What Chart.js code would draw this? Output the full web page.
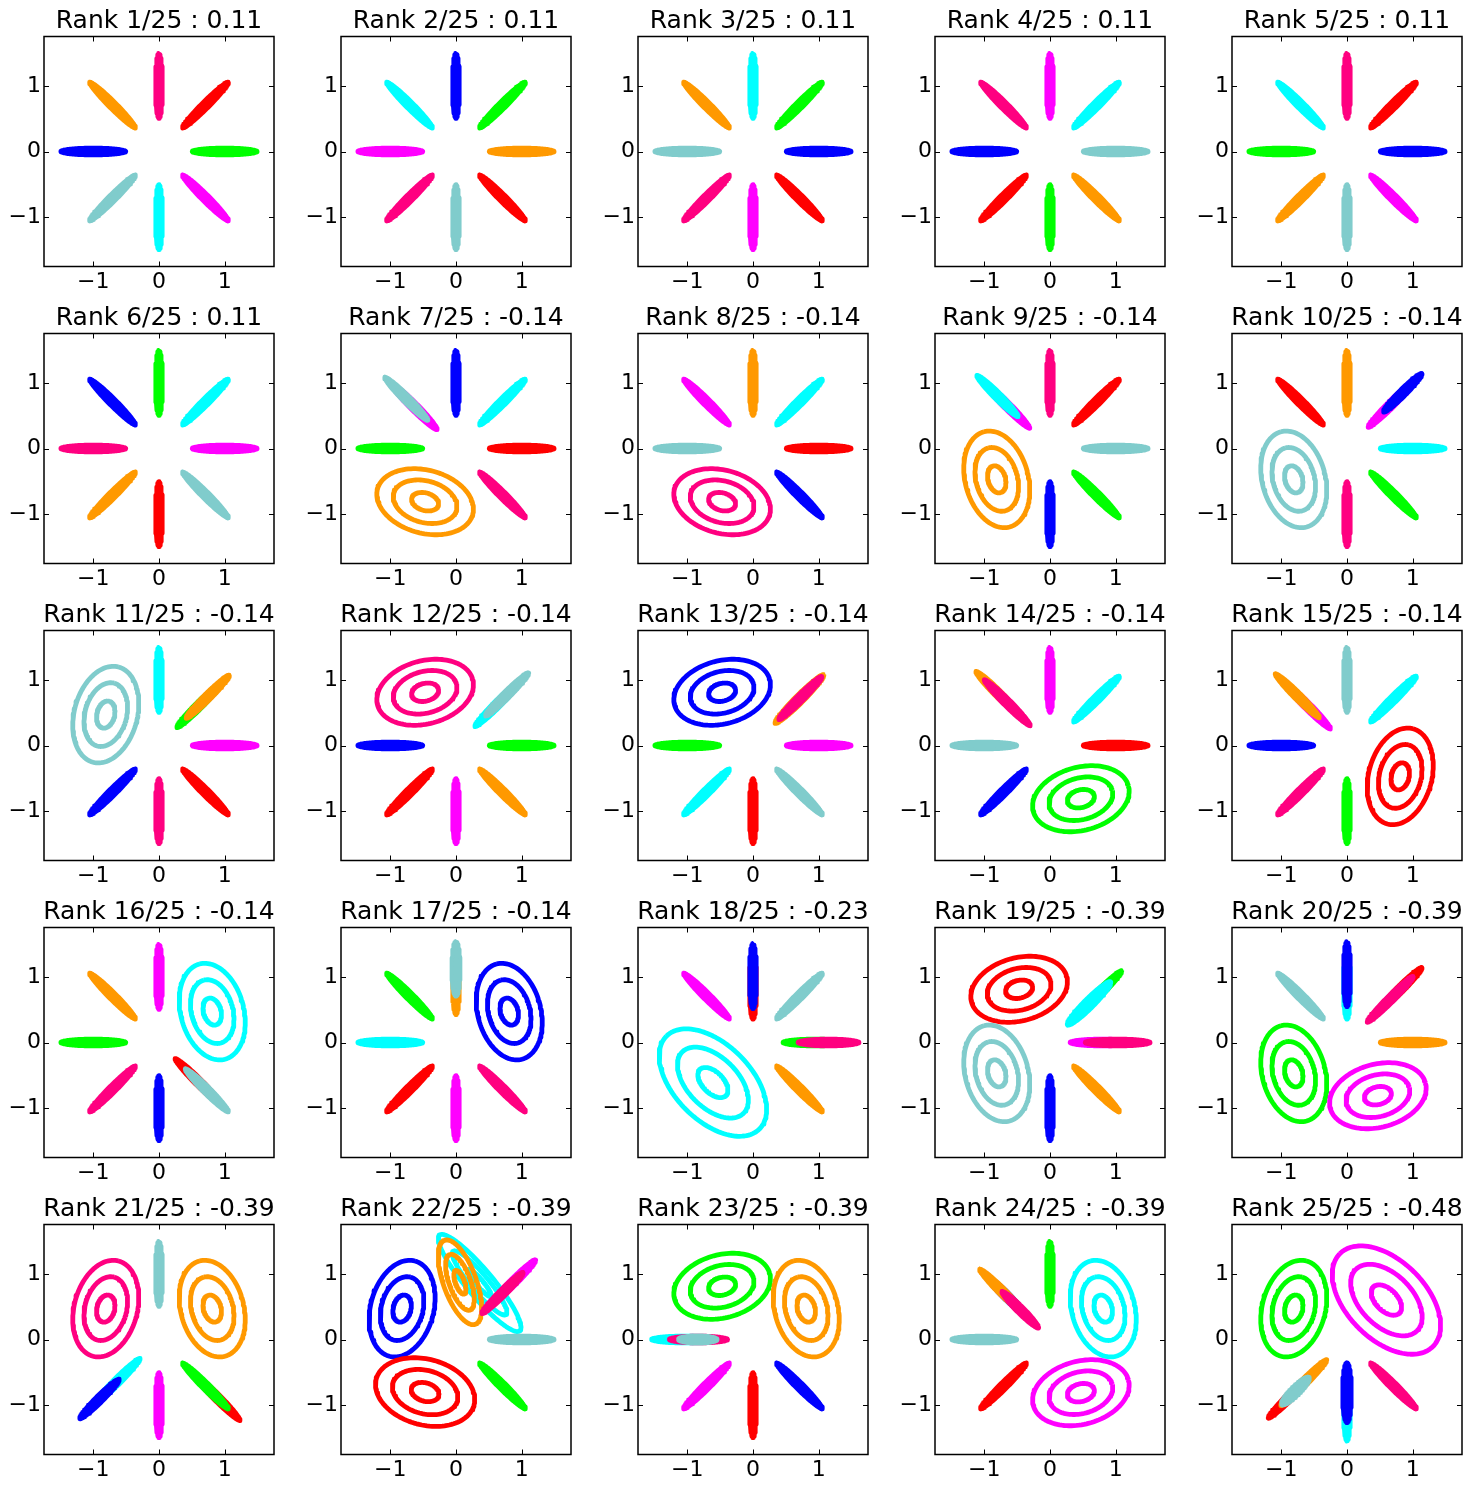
<!DOCTYPE html>
<html>
<head>
<meta charset="utf-8">
<script src="https://cdn.jsdelivr.net/npm/chart.js@4.4.1/dist/chart.umd.min.js"></script>
<style>
html, body { margin: 0; padding: 0; background: #fff; overflow: hidden; }
#grid { position: relative; width: 1472px; height: 1490px; }
.cell { position: absolute; width: 318px; height: 297px; }
</style>
</head>
<body>
<div id="grid"></div>
<script>
// scores shown in the panel titles, rank 1..25
const scores = [0.11, 0.11, 0.11, 0.11, 0.11, 0.11,
  -0.14, -0.14, -0.14, -0.14, -0.14, -0.14, -0.14, -0.14, -0.14, -0.14, -0.14,
  -0.23, -0.39, -0.39, -0.39, -0.39, -0.39, -0.39, -0.48];
const tickValues = [-1, 0, 1];
const axisMin = -1.75, axisMax = 1.75;
const contourLevels = [1, 0.66, 0.28];

// components of each panel, listed bottom to top
// ['bar', direction deg, radius, half length, half width, colour]  thin gaussian
// ['ring', cx, cy, a, b, angle deg, colour]                       round gaussian, 3 contours
const rank1 = [['bar',90,1,0.5,0.058,'pink'],['bar',45,1,0.5,0.058,'red'],['bar',0,1,0.5,0.058,'lime'],['bar',315,1,0.5,0.058,'magenta'],
  ['bar',270,1,0.5,0.058,'cyan'],['bar',225,1,0.5,0.058,'teal'],['bar',180,1,0.5,0.058,'blue'],['bar',135,1,0.5,0.058,'orange']];
const rank2 = [['bar',90,1,0.5,0.058,'blue'],['bar',45,1,0.5,0.058,'lime'],['bar',0,1,0.5,0.058,'orange'],['bar',315,1,0.5,0.058,'red'],
  ['bar',270,1,0.5,0.058,'teal'],['bar',225,1,0.5,0.058,'pink'],['bar',180,1,0.5,0.058,'magenta'],['bar',135,1,0.5,0.058,'cyan']];
const rank3 = [['bar',90,1,0.5,0.058,'cyan'],['bar',45,1,0.5,0.058,'lime'],['bar',0,1,0.5,0.058,'blue'],['bar',315,1,0.5,0.058,'red'],
  ['bar',270,1,0.5,0.058,'magenta'],['bar',225,1,0.5,0.058,'pink'],['bar',180,1,0.5,0.058,'teal'],['bar',135,1,0.5,0.058,'orange']];
const rank4 = [['bar',90,1,0.5,0.058,'magenta'],['bar',45,1,0.5,0.058,'cyan'],['bar',0,1,0.5,0.058,'teal'],['bar',315,1,0.5,0.058,'orange'],
  ['bar',270,1,0.5,0.058,'lime'],['bar',225,1,0.5,0.058,'red'],['bar',180,1,0.5,0.058,'blue'],['bar',135,1,0.5,0.058,'pink']];
const rank5 = [['bar',90,1,0.5,0.058,'pink'],['bar',45,1,0.5,0.058,'red'],['bar',0,1,0.5,0.058,'blue'],['bar',315,1,0.5,0.058,'magenta'],
  ['bar',270,1,0.5,0.058,'teal'],['bar',225,1,0.5,0.058,'orange'],['bar',180,1,0.5,0.058,'lime'],['bar',135,1,0.5,0.058,'cyan']];
const rank6 = [['bar',90,1,0.5,0.058,'lime'],['bar',45,1,0.5,0.058,'cyan'],['bar',0,1,0.5,0.058,'magenta'],['bar',315,1,0.5,0.058,'teal'],
  ['bar',270,1,0.5,0.058,'red'],['bar',225,1,0.5,0.058,'orange'],['bar',180,1,0.5,0.058,'pink'],['bar',135,1,0.5,0.058,'blue']];
const rank7 = [['bar',90,1,0.5,0.058,'blue'],['bar',45,1,0.5,0.058,'cyan'],['bar',0,1,0.5,0.058,'red'],['bar',315,1,0.5,0.058,'pink'],
  ['bar',180,1,0.5,0.058,'lime'],['bar',135,0.9,0.5,0.062,'magenta'],['bar',135,1.07,0.47,0.058,'teal'],
  ['ring',-0.47,-0.81,0.75,0.48,165,'orange']];
const rank8 = [['bar',90,1,0.5,0.058,'orange'],['bar',45,1,0.5,0.058,'cyan'],['bar',0,1,0.5,0.058,'red'],['bar',315,1,0.5,0.058,'blue'],
  ['bar',180,1,0.5,0.058,'teal'],['bar',135,1,0.5,0.058,'magenta'],
  ['ring',-0.47,-0.81,0.75,0.48,165,'pink']];
const rank9 = [['bar',90,1,0.5,0.058,'pink'],['bar',45,1,0.5,0.058,'red'],['bar',0,1,0.5,0.058,'teal'],['bar',315,1,0.5,0.058,'lime'],
  ['bar',270,1,0.5,0.058,'blue'],['bar',135,0.93,0.5,0.058,'magenta'],['bar',135,1.13,0.45,0.058,'cyan'],
  ['ring',-0.81,-0.47,0.75,0.48,105,'orange']];
const rank10 = [['bar',90,1,0.5,0.058,'orange'],['bar',135,1,0.5,0.058,'red'],['bar',0,1,0.5,0.058,'cyan'],['bar',315,1,0.5,0.058,'lime'],
  ['bar',270,1,0.5,0.058,'pink'],['bar',45,0.95,0.5,0.058,'magenta'],['bar',45,1.2,0.42,0.058,'blue'],
  ['ring',-0.81,-0.47,0.75,0.48,105,'teal']];
const rank11 = [['bar',90,1,0.5,0.058,'cyan'],['bar',0,1,0.5,0.058,'magenta'],['bar',315,1,0.5,0.058,'red'],['bar',270,1,0.5,0.058,'pink'],
  ['bar',225,1,0.5,0.058,'blue'],['bar',45,0.85,0.47,0.058,'lime'],['bar',45,1.05,0.47,0.058,'orange'],
  ['ring',-0.81,0.47,0.75,0.48,75,'teal']];
const rank12 = [['bar',0,1,0.5,0.058,'lime'],['bar',315,1,0.5,0.058,'orange'],['bar',270,1,0.5,0.058,'magenta'],['bar',225,1,0.5,0.058,'red'],
  ['bar',180,1,0.5,0.058,'blue'],['bar',45,0.9,0.5,0.058,'cyan'],['bar',45,1.1,0.47,0.058,'teal'],
  ['ring',-0.47,0.81,0.75,0.48,15,'pink']];
const rank13 = [['bar',0,1,0.5,0.058,'magenta'],['bar',315,1,0.5,0.058,'teal'],['bar',270,1,0.5,0.058,'red'],['bar',225,1,0.5,0.058,'cyan'],
  ['bar',180,1,0.5,0.058,'lime'],['bar',45,1,0.53,0.068,'orange'],['bar',45,1.02,0.47,0.058,'pink'],
  ['ring',-0.47,0.81,0.75,0.48,15,'blue']];
const rank14 = [['bar',90,1,0.5,0.058,'magenta'],['bar',45,1,0.5,0.058,'cyan'],['bar',0,1,0.5,0.058,'red'],['bar',225,1,0.5,0.058,'blue'],
  ['bar',180,1,0.5,0.058,'teal'],['bar',135,1.15,0.45,0.058,'orange'],['bar',135,0.92,0.5,0.058,'pink'],
  ['ring',0.47,-0.81,0.75,0.48,15,'lime']];
const rank15 = [['bar',90,1,0.5,0.058,'teal'],['bar',45,1,0.5,0.058,'cyan'],['bar',270,1,0.5,0.058,'lime'],['bar',225,1,0.5,0.058,'pink'],
  ['bar',180,1,0.5,0.058,'blue'],['bar',135,0.85,0.5,0.058,'magenta'],['bar',135,1.07,0.48,0.058,'orange'],
  ['ring',0.81,-0.47,0.75,0.48,75,'red']];
const rank16 = [['bar',90,1,0.5,0.058,'magenta'],['bar',270,1,0.5,0.058,'blue'],['bar',225,1,0.5,0.058,'pink'],['bar',180,1,0.5,0.058,'lime'],
  ['bar',135,1,0.5,0.058,'orange'],['bar',315,0.84,0.5,0.058,'red'],['bar',315,1.03,0.47,0.058,'teal'],
  ['ring',0.81,0.47,0.75,0.48,105,'cyan']];
const rank17 = [['bar',315,1,0.5,0.058,'pink'],['bar',270,1,0.5,0.058,'magenta'],['bar',225,1,0.5,0.058,'red'],['bar',180,1,0.5,0.058,'cyan'],
  ['bar',135,1,0.5,0.058,'lime'],['bar',90,0.9,0.48,0.058,'orange'],['bar',90,1.12,0.42,0.068,'teal'],
  ['ring',0.81,0.47,0.75,0.48,105,'blue']];
const rank18 = [['bar',45,1,0.5,0.058,'teal'],['bar',315,1,0.5,0.058,'orange'],['bar',135,1,0.5,0.058,'magenta'],
  ['bar',90,0.85,0.5,0.058,'red'],['bar',90,1.01,0.5,0.058,'blue'],['bar',0,0.95,0.5,0.058,'lime'],['bar',0,1.15,0.47,0.058,'pink'],
  ['ring',-0.61,-0.61,1.0,0.58,135,'cyan']];
const rank19 = [['bar',315,1,0.5,0.058,'orange'],['bar',270,1,0.5,0.058,'blue'],['bar',45,1.05,0.5,0.058,'lime'],['bar',45,0.84,0.47,0.078,'cyan'],
  ['bar',0,0.8,0.5,0.058,'magenta'],['bar',0,1.03,0.5,0.058,'pink'],
  ['ring',-0.47,0.81,0.75,0.48,15,'red'],['ring',-0.81,-0.47,0.75,0.48,105,'teal']];
const rank20 = [['bar',0,1,0.5,0.058,'orange'],['bar',135,1,0.5,0.058,'teal'],['bar',90,0.85,0.5,0.058,'cyan'],['bar',90,1.04,0.5,0.058,'blue'],
  ['bar',45,1.15,0.47,0.058,'red'],['bar',45,0.93,0.5,0.058,'pink'],
  ['ring',-0.81,-0.47,0.75,0.48,105,'lime'],['ring',0.47,-0.81,0.75,0.48,15,'magenta']];
const rank21 = [['bar',90,1,0.5,0.058,'teal'],['bar',270,1,0.5,0.058,'magenta'],['bar',315,1.25,0.5,0.058,'red'],['bar',315,1,0.5,0.058,'lime'],
  ['bar',225,0.9,0.5,0.058,'cyan'],['bar',225,1.28,0.43,0.058,'blue'],
  ['ring',-0.81,0.47,0.75,0.48,75,'pink'],['ring',0.81,0.47,0.75,0.48,105,'orange']];
const rank22 = [['ring',-0.82,0.47,0.75,0.48,75,'blue'],['ring',-0.47,-0.8,0.77,0.5,165,'red'],
  ['ring',0.36,0.86,0.95,0.2,130,'cyan'],['ring',0.06,0.87,0.68,0.25,110,'orange'],
  ['bar',45,1.25,0.47,0.058,'magenta'],['bar',45,1,0.45,0.058,'pink'],['bar',0,1,0.5,0.058,'teal'],['bar',315,1,0.5,0.058,'lime']];
const rank23 = [['bar',315,1,0.5,0.058,'blue'],['bar',270,1,0.5,0.058,'red'],['bar',225,1,0.5,0.058,'magenta'],
  ['bar',180,1.05,0.5,0.058,'cyan'],['bar',180,0.83,0.45,0.058,'pink'],['bar',180,0.84,0.3,0.062,'teal'],
  ['ring',-0.47,0.81,0.75,0.48,15,'lime'],['ring',0.81,0.47,0.75,0.48,105,'orange']];
const rank24 = [['bar',90,1,0.5,0.058,'lime'],['bar',225,1,0.5,0.058,'red'],['bar',180,1,0.5,0.058,'teal'],
  ['bar',135,0.95,0.4,0.058,'blue'],['bar',135,1.05,0.47,0.058,'orange'],['bar',135,0.64,0.4,0.058,'pink'],
  ['ring',0.81,0.47,0.75,0.48,105,'cyan'],['ring',0.47,-0.81,0.75,0.48,15,'magenta']];
const rank25 = [['bar',315,1,0.5,0.058,'pink'],['bar',225,1.2,0.5,0.058,'red'],['bar',225,0.93,0.5,0.058,'orange'],['bar',225,1.11,0.3,0.072,'teal'],
  ['bar',270,1.05,0.5,0.058,'cyan'],['bar',270,0.81,0.46,0.072,'blue'],
  ['ring',-0.81,0.47,0.75,0.48,75,'lime'],['ring',0.6,0.6,1.0,0.6,135,'magenta']];

const ranks = [rank1, rank2, rank3, rank4, rank5, rank6, rank7, rank8, rank9, rank10, rank11, rank12, rank13,
  rank14, rank15, rank16, rank17, rank18, rank19, rank20, rank21, rank22, rank23, rank24, rank25];

const palette = {
  blue: '#0000ff', lime: '#00ff00', red: '#ff0000', cyan: '#00ffff',
  magenta: '#ff00ff', orange: '#ff9900', pink: '#ff0080', teal: '#80cccc'
};

const font = 'DejaVu Sans';

// outline of an ellipse with semi axes a, b turned by deg
function ellipsePoints(cx, cy, a, b, deg) {
  const t = deg * Math.PI / 180, c = Math.cos(t), s = Math.sin(t);
  const pts = [];
  for (let i = 0; i <= 120; i++) {
    const u = i / 120 * 2 * Math.PI;
    const ex = a * Math.cos(u), ey = b * Math.sin(u);
    pts.push({x: cx + ex * c - ey * s, y: cy + ex * s + ey * c});
  }
  return pts;
}

function buildDatasets(comps) {
  const sets = [];
  comps.forEach(function(c) {
    if (c[0] === 'bar') {
      const d = c[1] * Math.PI / 180;
      const col = palette[c[5]];
      sets.push({
        data: ellipsePoints(c[2] * Math.cos(d), c[2] * Math.sin(d), c[3], c[4], c[1]),
        borderColor: col, backgroundColor: col, fill: 'shape', borderWidth: 4
      });
    } else {
      const col = palette[c[6]];
      contourLevels.forEach(function(k) {
        sets.push({
          data: ellipsePoints(c[1], c[2], c[3] * k, c[4] * k, c[5]),
          borderColor: col, backgroundColor: col, fill: false, borderWidth: 4.8
        });
      });
    }
  });
  sets.forEach(function(s) {
    s.showLine = true;
    s.pointRadius = 0;
    s.tension = 0;
    s.borderJoinStyle = 'round';
  });
  // Chart.js paints dataset 0 last, so flip to keep the listed stacking
  return sets.reverse();
}

// black frame with inward ticks on all four sides
const framePlugin = {
  id: 'frame',
  afterDraw(chart) {
    const ctx = chart.ctx, a = chart.chartArea;
    const x = chart.scales.x, y = chart.scales.y;
    ctx.save();
    ctx.strokeStyle = '#000';
    ctx.lineWidth = 1.5;
    ctx.strokeRect(a.left, a.top, a.right - a.left, a.bottom - a.top);
    ctx.lineWidth = 1;
    ctx.beginPath();
    tickValues.forEach(function(v) {
      const px = Math.round(x.getPixelForValue(v)) + 0.5;
      ctx.moveTo(px, a.bottom); ctx.lineTo(px, a.bottom - 5);
      ctx.moveTo(px, a.top); ctx.lineTo(px, a.top + 5);
      const py = Math.round(y.getPixelForValue(v)) + 0.5;
      ctx.moveTo(a.left, py); ctx.lineTo(a.left + 5, py);
      ctx.moveTo(a.right, py); ctx.lineTo(a.right - 5, py);
    });
    ctx.stroke();
    ctx.restore();
  }
};

function setTicks(scale) {
  scale.ticks = tickValues.map(function(v) { return {value: v}; });
}

function tickLabel(v) {
  return v < 0 ? '\u2212' + Math.abs(v) : String(v);
}

const grid = document.getElementById('grid');
ranks.forEach(function(comps, i) {
  const cell = document.createElement('div');
  cell.className = 'cell';
  cell.style.left = (i % 5) * 297 + 'px';
  cell.style.top = Math.floor(i / 5) * 297 + 'px';
  const canvas = document.createElement('canvas');
  canvas.width = 318;
  canvas.height = 297;
  cell.appendChild(canvas);
  grid.appendChild(cell);

  new Chart(canvas.getContext('2d'), {
    type: 'scatter',
    data: {datasets: buildDatasets(comps)},
    plugins: [framePlugin],
    options: {
      responsive: false,
      animation: false,
      events: [],
      layout: {padding: 0},
      plugins: {
        legend: {display: false},
        tooltip: {enabled: false},
        title: {
          display: true,
          text: 'Rank ' + (i + 1) + '/25 : ' + scores[i].toFixed(2),
          color: '#000',
          font: {family: font, size: 25, weight: 'normal', lineHeight: 1},
          padding: {top: 9, bottom: 2.5}
        }
      },
      scales: {
        x: {
          type: 'linear', position: 'bottom', min: axisMin, max: axisMax,
          afterBuildTicks: setTicks,
          afterFit: function(s) { s.height = 30.5; },
          grid: {display: false, drawTicks: false},
          border: {display: false},
          ticks: {color: '#000', font: {family: font, size: 22}, padding: 3, maxRotation: 0, autoSkip: false, callback: tickLabel}
        },
        y: {
          type: 'linear', position: 'left', min: axisMin, max: axisMax,
          afterBuildTicks: setTicks,
          afterFit: function(s) { s.width = 44; },
          grid: {display: false, drawTicks: false},
          border: {display: false},
          ticks: {color: '#000', font: {family: font, size: 22}, padding: 3, autoSkip: false, callback: tickLabel}
        },
        y2: {
          type: 'linear', position: 'right', min: axisMin, max: axisMax,
          afterFit: function(s) { s.width = 44; },
          grid: {display: false, drawTicks: false},
          border: {display: false},
          ticks: {display: false}
        }
      }
    }
  });
});
</script>
</body>
</html>
